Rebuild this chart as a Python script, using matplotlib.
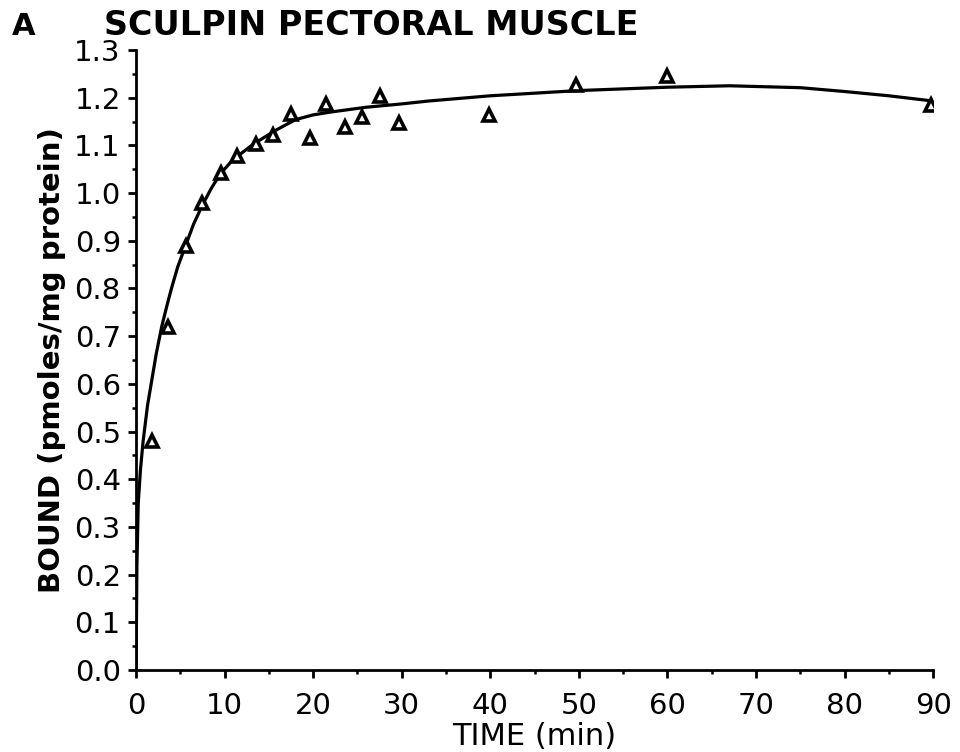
import matplotlib
matplotlib.use("Agg")
import matplotlib.pyplot as plt
from matplotlib.ticker import MultipleLocator

time_min = [1.8, 3.6, 5.6, 7.5, 9.6, 11.4, 13.5, 15.5, 17.5, 19.6, 21.5, 23.6, 25.5, 27.6, 29.7, 39.8, 49.7, 59.9, 89.8]
bound = [0.48, 0.72, 0.89, 0.98, 1.042, 1.077, 1.103, 1.121, 1.166, 1.116, 1.186, 1.138, 1.160, 1.203, 1.147, 1.163, 1.227, 1.245, 1.184]

# fitted curve, points
fit_time = [0.0, 0.1, 0.25, 0.5, 0.8, 1.3, 1.8, 2.3, 2.9, 3.5, 4.0, 4.7, 5.5, 6.5, 7.5, 8.5, 9.5,
            10.7, 12.0, 13.2, 14.4, 16.0, 18.0, 20.0, 22.0, 26.0, 30.0, 33.0, 40.0, 50.0,
            60.0, 67.0, 75.0, 80.0, 85.0, 90.0]
fit_bound = [0.0, 0.22, 0.35, 0.42, 0.48, 0.555, 0.61, 0.665, 0.72, 0.765, 0.80, 0.845, 0.885, 0.935,
             0.975, 1.01, 1.04, 1.065, 1.085, 1.102, 1.116, 1.134, 1.154, 1.164, 1.170, 1.180,
             1.187, 1.193, 1.204, 1.215, 1.222, 1.225, 1.221, 1.213, 1.204, 1.193]

x_ticks = [0, 10, 20, 30, 40, 50, 60, 70, 80, 90]
y_ticks = [0.0, 0.1, 0.2, 0.3, 0.4, 0.5, 0.6, 0.7, 0.8, 0.9, 1.0, 1.1, 1.2, 1.3]

plt.rcParams["font.family"] = ["DejaVu Sans"]

fig = plt.figure(figsize=(9.6, 7.52), dpi=100)
ax = fig.add_axes([0.1417, 0.109, 0.8303, 0.8245])

ax.plot(fit_time, fit_bound, color="black", linewidth=2.3, solid_capstyle="round", zorder=2)
ax.plot(time_min, bound, linestyle="none", marker="^", markersize=9,
        markerfacecolor="white", markeredgecolor="black", markeredgewidth=2.6, zorder=3)

ax.set_xlim(0, 90)
ax.set_ylim(0, 1.3)
ax.set_xticks(x_ticks)
ax.set_yticks(y_ticks)
ax.set_yticklabels([f"{v:.1f}" for v in y_ticks])
ax.xaxis.set_minor_locator(MultipleLocator(5))
ax.yaxis.set_minor_locator(MultipleLocator(0.05))

for side in ("top", "right"):
    ax.spines[side].set_visible(False)
for side in ("left", "bottom"):
    ax.spines[side].set_linewidth(2.0)

ax.tick_params(which="major", direction="out", length=6, width=2, labelsize=21, pad=3)
ax.tick_params(which="minor", direction="out", length=3, width=1.8)
ax.tick_params(axis="x", which="major", pad=10)
ax.tick_params(axis="y", which="major", pad=5)

ax.set_xlabel("TIME (min)", fontsize=22, labelpad=1)
ax.set_ylabel("BOUND (pmoles/mg protein)", fontsize=21, fontweight="bold", labelpad=6)

fig.text(0.012, 0.953, "A", fontsize=22, fontweight="bold", ha="left", va="baseline")
fig.text(0.108, 0.953, "SCULPIN PECTORAL MUSCLE", fontsize=24, fontweight="bold",
         ha="left", va="baseline")

fig.savefig("out.png", dpi=100)
